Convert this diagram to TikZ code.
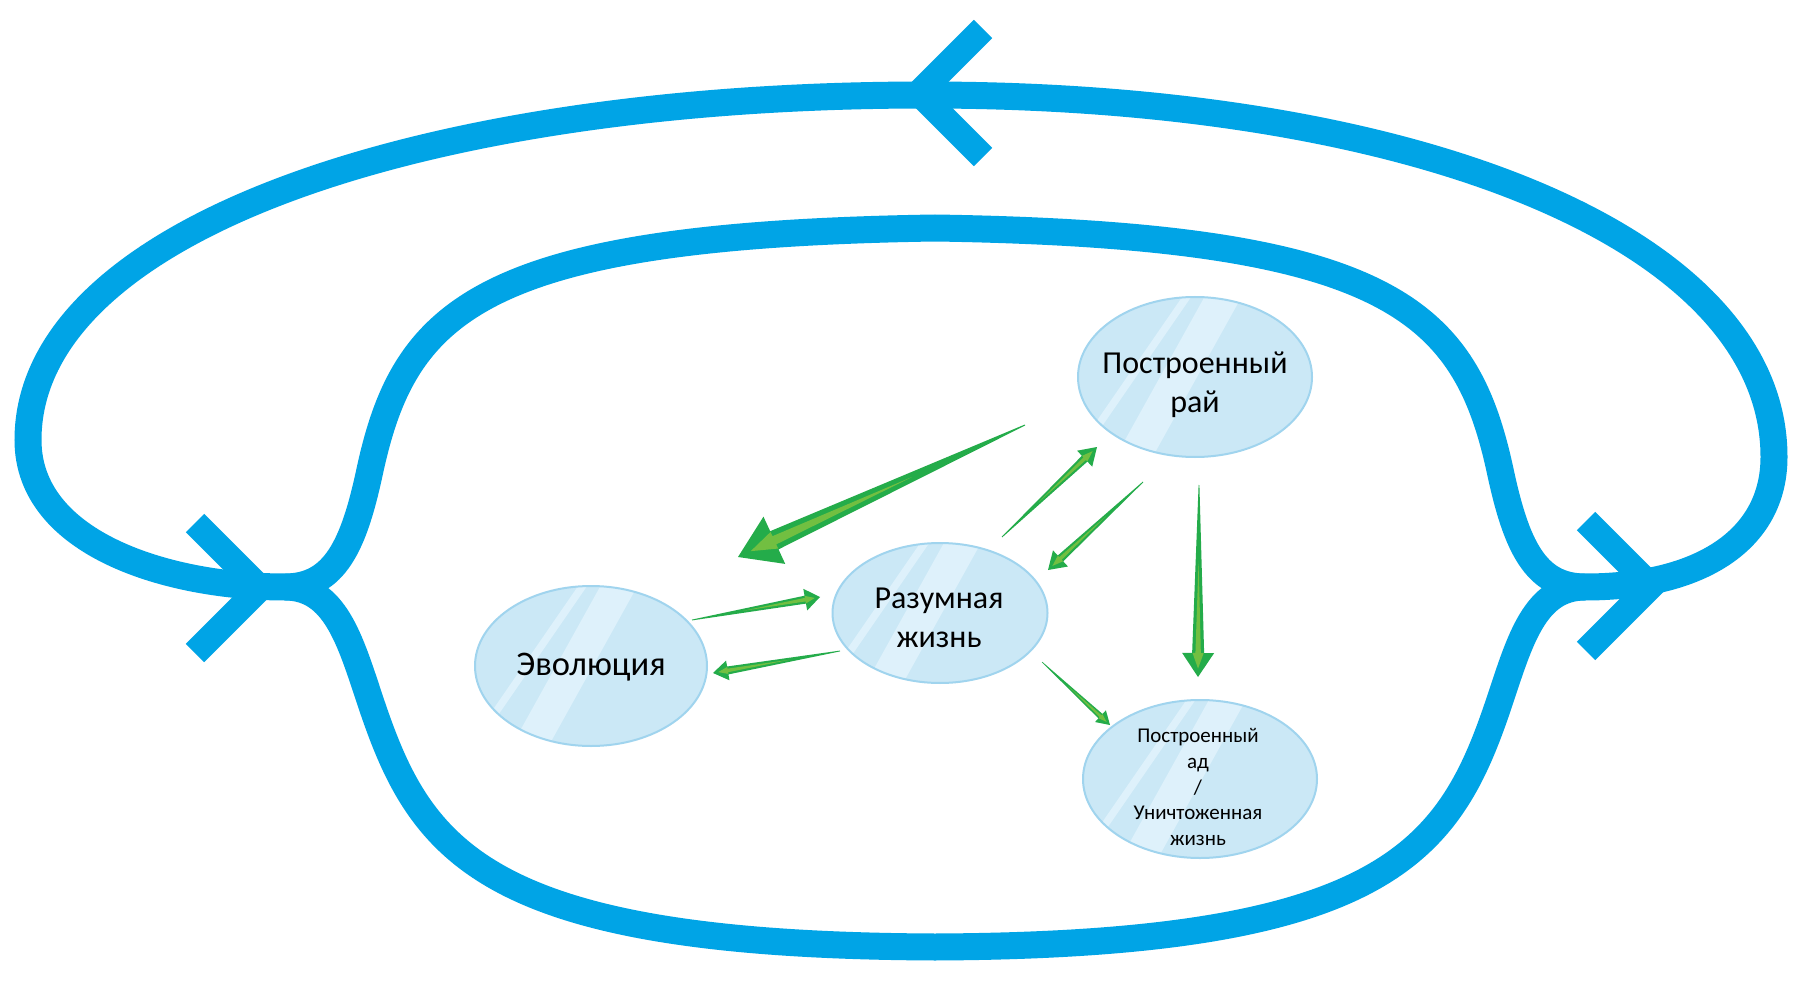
\documentclass[tikz,border=0pt]{standalone}
\usepackage{fontspec}
\setmainfont{Carlito}
\usetikzlibrary{calc,shapes.geometric}
\definecolor{loopblue}{RGB}{0,164,230}
\definecolor{bubblefill}{RGB}{203,232,246}
\definecolor{bubblestripe}{RGB}{222,241,251}
\definecolor{bubbleborder}{RGB}{160,212,238}
\definecolor{gdark}{RGB}{36,172,74}
\definecolor{glight}{RGB}{141,198,63}
\tikzset{
 loopline/.style={draw=loopblue, line width=27pt, line cap=butt},
 chevron/.style={draw=loopblue, line width=26pt, line cap=butt, line join=miter},
 glass/.style={ellipse, draw=bubbleborder, line width=2pt, fill=bubblefill, inner sep=0pt,
   path picture={
     \fill[bubblestripe] ([shift={(-6,-90)}]path picture bounding box.center) -- ++(9,0) -- ++(-124,180) -- ++(-9,0) -- cycle;
     \fill[bubblestripe] ([shift={(15,-90)}]path picture bounding box.center) -- ++(37,0) -- ++(-100,180) -- ++(-37,0) -- cycle;
   }},
 bigtext/.style={font=\fontsize{32}{39}\selectfont, align=center, text=black, inner sep=0pt},
 evotext/.style={font=\fontsize{34.5}{40}\selectfont, align=center, text=black, inner sep=0pt},
 smalltext/.style={font=\fontsize{21}{25.8}\selectfont, align=center, text=black, inner sep=0pt},
}
\newcommand{\greenarrow}[6]{%
  \coordinate (gH) at ($(#2)!#6!(#1)$);
  \fill[gdark] ($(#1)!#3!90:(#2)$) -- ($(gH)!#4!90:(#2)$) -- ($(gH)!#5!90:(#2)$) -- (#2)
     -- ($(gH)!#5!-90:(#2)$) -- ($(gH)!#4!-90:(#2)$) -- ($(#1)!#3!-90:(#2)$) -- cycle;
  \fill[glight,opacity=0.75] ($(#1)!0.45!(gH)$) -- ($(gH)!{0.45*#4}!90:(#2)$) -- ($(gH)!{0.35*#5}!90:(#2)$)
     -- ($(#2)!{0.35*#6}!(#1)$) -- ($(gH)!{0.35*#5}!-90:(#2)$) -- ($(gH)!{0.45*#4}!-90:(#2)$) -- cycle;
}
\begin{document}
\begin{tikzpicture}[x=1pt,y=-1pt]
\useasboundingbox[fill=white] (0,0) rectangle (1816,1000);
% merge points
\coordinate (L) at (285,587);
\coordinate (R) at (1585,587);
% outer loop
\draw[loopline] (L) .. controls (170,587) and (28,545) .. (28,440)
   .. controls (28,230) and (420,95) .. (926,95)
   .. controls (1420,95) and (1774,240) .. (1774,457)
   .. controls (1774,540) and (1700,587) .. (R);
% inner upper arc
\draw[loopline] (L) .. controls (335,587) and (354,545) .. (370,470)
   .. controls (405,310) and (480,235) .. (935,228)
   .. controls (1390,235) and (1465,310) .. (1500,470)
   .. controls (1516,545) and (1535,587) .. (R);
% lower arc
\draw[loopline] (L) .. controls (335,587) and (350,640) .. (370,700)
   .. controls (420,850) and (480,945) .. (935,947)
   .. controls (1390,945) and (1450,850) .. (1500,700)
   .. controls (1520,640) and (1535,587) .. (R);
% chevrons
\draw[chevron] (195,523) -- (260,588) -- (195,653);
\draw[chevron] (983,29) -- (919,93) -- (983,157);
\draw[chevron] (1586,521) -- (1651,586) -- (1586,651);
% bubbles
\node[glass, minimum width=234pt, minimum height=160pt] (rai) at (1195,377) {};
\node[glass, minimum width=215pt, minimum height=140pt] (razum) at (940,613) {};
\node[glass, minimum width=232pt, minimum height=160pt] (evol) at (591,666) {};
\node[glass, minimum width=234pt, minimum height=158pt] (ad) at (1200,779) {};
% arrows
\coordinate (a1t) at (1025,425); \coordinate (a1h) at (738,557);
\coordinate (a2t) at (1002,537); \coordinate (a2h) at (1097,447);
\coordinate (a3t) at (1143,482); \coordinate (a3h) at (1048,570);
\coordinate (a4t) at (692,620);  \coordinate (a4h) at (820,597);
\coordinate (a5t) at (840,651);  \coordinate (a5h) at (713,673);
\coordinate (a6t) at (1042,662); \coordinate (a6h) at (1110,725);
\coordinate (a7t) at (1199,485); \coordinate (a7h) at (1198,677);
\greenarrow{a1t}{a1h}{0.5pt}{10pt}{26pt}{40pt}
\greenarrow{a2t}{a2h}{0.4pt}{4pt}{11pt}{17pt}
\greenarrow{a3t}{a3h}{0.4pt}{4pt}{11pt}{17pt}
\greenarrow{a4t}{a4h}{0.4pt}{4pt}{11pt}{15pt}
\greenarrow{a5t}{a5h}{0.4pt}{4pt}{10pt}{15pt}
\greenarrow{a6t}{a6h}{0.3pt}{3pt}{8pt}{13pt}
\greenarrow{a7t}{a7h}{0.4pt}{6pt}{16pt}{24pt}
% texts
\node[bigtext] (tRai) at (1195,385) {Построенный\\рай};
\node[bigtext] (tRaz) at (939,618) {Разумная\\жизнь};
\node[evotext] (tEvo) at (591,667) {Эволюция};
\node[smalltext] (tAd) at (1198,787) {Построенный\\ад\\/\\Уничтоженная\\жизнь};
\end{tikzpicture}
\end{document}
